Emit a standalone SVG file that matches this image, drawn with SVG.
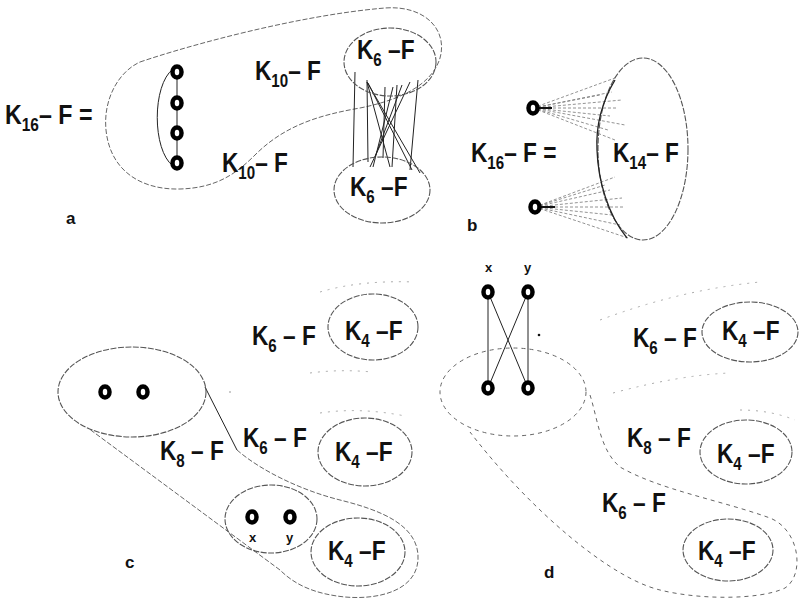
<svg xmlns="http://www.w3.org/2000/svg" width="799" height="603" viewBox="0 0 799 603">
<style>
.t{font-family:"Liberation Sans",Arial,sans-serif;font-weight:bold;font-size:27px;fill:#111}
.s{font-size:18px}
.sm{font-family:"Liberation Sans",Arial,sans-serif;font-weight:bold;font-size:17px;fill:#111}
.xs{font-family:"Liberation Sans",Arial,sans-serif;font-weight:bold;font-size:13px;fill:#111}
.v{fill:#fff;stroke:#000;stroke-width:4.5}
.e{fill:none;stroke:#555;stroke-width:1.1;stroke-dasharray:6 1.5}
.c{fill:none;stroke:#666;stroke-width:1;stroke-dasharray:5 2}
.cd{fill:none;stroke:#666;stroke-width:1;stroke-dasharray:4 4}
.ln{stroke:#222;stroke-width:1;fill:none}
.fan{stroke:#777;stroke-width:0.8;stroke-dasharray:3 2}
.faint{fill:none;stroke:#aaa;stroke-width:1;stroke-dasharray:2 6}
</style>
<rect width="799" height="603" fill="#fff"/>

<!-- connectors -->
<g id="connectors">
  <!-- panel a -->
  <path class="c" d="M140,62 C190,45 300,15 385,8 C425,5 448,30 440,58 C432,85 400,100 360,108 C320,115 285,125 255,155 C235,175 215,188 180,189 C140,190 110,170 106,130 C103,100 118,72 140,62 Z"/>
  <line class="ln" x1="177" y1="72" x2="177" y2="163"/>
  <path class="ln" d="M173,69 C152,85 152,150 173,166"/>
  <g class="ln">
    <line x1="355" y1="72" x2="353" y2="167"/>
    <line x1="367" y1="80" x2="368" y2="162"/>
    <line x1="368" y1="83" x2="412" y2="170"/>
    <line x1="367" y1="82" x2="390" y2="167"/>
    <line x1="385" y1="87" x2="383" y2="158"/>
    <line x1="393" y1="87" x2="373" y2="167"/>
    <line x1="402" y1="85" x2="375" y2="157"/>
    <line x1="410" y1="82" x2="370" y2="167"/>
    <line x1="418" y1="80" x2="410" y2="170"/>
    <line x1="397" y1="85" x2="392" y2="167"/>
    <line x1="367" y1="82" x2="420" y2="173"/>
  </g>
  <!-- panel b -->
  <g class="fan">
    <line x1="533" y1="108" x2="615" y2="78"/>
    <line x1="533" y1="108" x2="600" y2="95"/>
    <line x1="533" y1="108" x2="612" y2="92"/>
    <line x1="533" y1="108" x2="622" y2="100"/>
    <line x1="533" y1="108" x2="618" y2="108"/>
    <line x1="533" y1="108" x2="610" y2="116"/>
    <line x1="533" y1="108" x2="625" y2="125"/>
    <line x1="533" y1="108" x2="608" y2="130"/>
    <line x1="533" y1="108" x2="615" y2="140"/>
    <line x1="535" y1="207" x2="615" y2="177"/>
    <line x1="535" y1="207" x2="605" y2="185"/>
    <line x1="535" y1="207" x2="610" y2="190"/>
    <line x1="535" y1="207" x2="622" y2="198"/>
    <line x1="535" y1="207" x2="625" y2="207"/>
    <line x1="535" y1="207" x2="612" y2="215"/>
    <line x1="535" y1="207" x2="620" y2="225"/>
    <line x1="535" y1="207" x2="628" y2="238"/>
  </g>
  <line x1="533" y1="108" x2="552" y2="108" stroke="#111" stroke-width="2"/>
  <line x1="535" y1="207" x2="555" y2="207" stroke="#111" stroke-width="2"/>
  <!-- panel c -->
  <path class="ln" d="M205,387 L237,450" stroke-width="1.2"/>
  <path class="c" d="M237,450 C260,470 300,490 340,500 C380,510 420,525 418,560 C416,590 380,600 345,597 C315,594 295,585 280,570 L88,428"/>
  <path class="faint" d="M320,292 Q360,280 415,282"/>
  <path class="faint" d="M310,373 Q340,369 372,372"/>
  <path class="faint" d="M320,413 Q360,407 405,416"/>
  <circle cx="230" cy="392" r="0.8" fill="#888"/>
  <!-- panel d -->
  <g class="ln">
    <line x1="488" y1="292" x2="488" y2="388"/>
    <line x1="528" y1="292" x2="528" y2="388"/>
    <line x1="488" y1="292" x2="528" y2="388"/>
    <line x1="528" y1="292" x2="488" y2="388"/>
  </g>
  <circle cx="539" cy="335" r="1.3" fill="#111"/>
  <path class="cd" d="M590,395 C598,420 600,450 620,467 C660,490 720,500 770,518 C800,530 805,575 785,588 C760,600 700,600 660,590 C610,578 530,510 470,432"/>
  <path class="faint" d="M600,320 Q680,290 760,282"/>
  <path class="faint" d="M613,393 Q680,375 730,373"/>
  <path class="faint" d="M740,410 Q770,410 795,420"/>
</g>

<!-- panel a nodes -->
<g id="a-label"><text class="t" transform="translate(5,124) scale(0.86,1)">K<tspan class="s" dy="7">16</tspan><tspan dy="-7">– F =</tspan></text></g>
<g id="a-v1"><ellipse class="v" cx="177" cy="72" rx="4.5" ry="5.5"/></g>
<g id="a-v2"><ellipse class="v" cx="177" cy="103" rx="4.5" ry="5.5"/></g>
<g id="a-v3"><ellipse class="v" cx="177" cy="133" rx="4.5" ry="5.5"/></g>
<g id="a-v4"><ellipse class="v" cx="177" cy="163" rx="4.5" ry="5.5"/></g>
<g id="a-k10top"><text class="t" transform="translate(255,80) scale(0.84,1)">K<tspan class="s" dy="7">10</tspan><tspan dy="-7">– F</tspan></text></g>
<g id="a-k10bot"><text class="t" transform="translate(222,172) scale(0.84,1)">K<tspan class="s" dy="7">10</tspan><tspan dy="-7">– F</tspan></text></g>
<g id="a-k6top"><ellipse class="e" cx="390" cy="62" rx="46" ry="34"/><text class="t" transform="translate(357,59) scale(0.84,1)">K<tspan class="s" dy="7">6</tspan><tspan dy="-7"> –F</tspan></text></g>
<g id="a-k6bot"><ellipse class="e" cx="382" cy="190" rx="48" ry="33"/><text class="t" transform="translate(350,196) scale(0.84,1)">K<tspan class="s" dy="7">6</tspan><tspan dy="-7"> –F</tspan></text></g>
<g id="a-tag"><text class="sm" x="66" y="224">a</text></g>

<!-- panel b nodes -->
<g id="b-label"><text class="t" transform="translate(471,162) scale(0.84,1)">K<tspan class="s" dy="7">16</tspan><tspan dy="-7">– F =</tspan></text></g>
<g id="b-v1"><ellipse class="v" cx="533" cy="108" rx="4.5" ry="5.5"/></g>
<g id="b-v2"><ellipse class="v" cx="535" cy="207" rx="4.5" ry="5.5"/></g>
<g id="b-k14">
  <ellipse class="e" cx="643" cy="149" rx="45" ry="91" stroke="#888"/>
  <path d="M615,80 C600,105 596,130 597,150 C598,180 608,215 627,238" fill="none" stroke="#222" stroke-width="1.3"/>
  <text class="t" transform="translate(613,162) scale(0.84,1)">K<tspan class="s" dy="7">14</tspan><tspan dy="-7">– F</tspan></text>
</g>
<g id="b-tag"><text class="sm" x="467" y="231">b</text></g>

<!-- panel c nodes -->
<g id="c-left"><ellipse class="e" cx="132" cy="392" rx="74" ry="45"/></g>
<g id="c-v1"><ellipse class="v" cx="105" cy="392" rx="4.5" ry="5.5"/></g>
<g id="c-v2"><ellipse class="v" cx="143" cy="392" rx="4.5" ry="5.5"/></g>
<g id="c-k6a"><text class="t" transform="translate(252,345) scale(0.84,1)">K<tspan class="s" dy="7">6</tspan><tspan dy="-7"> – F</tspan></text></g>
<g id="c-k4a"><ellipse class="e" cx="373" cy="327" rx="45" ry="33"/><text class="t" transform="translate(345,340) scale(0.84,1)">K<tspan class="s" dy="7">4</tspan><tspan dy="-7"> –F</tspan></text></g>
<g id="c-k6b"><text class="t" transform="translate(243,447) scale(0.84,1)">K<tspan class="s" dy="7">6</tspan><tspan dy="-7"> – F</tspan></text></g>
<g id="c-k4b"><ellipse class="e" cx="365" cy="452" rx="47" ry="34"/><text class="t" transform="translate(335,461) scale(0.84,1)">K<tspan class="s" dy="7">4</tspan><tspan dy="-7"> –F</tspan></text></g>
<g id="c-k8"><text class="t" transform="translate(160,460) scale(0.84,1)">K<tspan class="s" dy="7">8</tspan><tspan dy="-7"> – F</tspan></text></g>
<g id="c-xy"><ellipse class="e" cx="271" cy="519" rx="46" ry="34"/></g>
<g id="c-vx"><ellipse class="v" cx="252" cy="517" rx="4.5" ry="5.5"/><text class="xs" x="249" y="542">x</text></g>
<g id="c-vy"><ellipse class="v" cx="290" cy="517" rx="4.5" ry="5.5"/><text class="xs" x="286" y="542">y</text></g>
<g id="c-k4c"><ellipse class="e" cx="358" cy="552" rx="47" ry="34"/><text class="t" transform="translate(328,560) scale(0.84,1)">K<tspan class="s" dy="7">4</tspan><tspan dy="-7"> –F</tspan></text></g>
<g id="c-tag"><text class="sm" x="125" y="568">c</text></g>

<!-- panel d nodes -->
<g id="d-ell"><ellipse class="cd" cx="513" cy="392" rx="73" ry="44"/></g>
<g id="d-vx"><text class="xs" x="485" y="272">x</text><ellipse class="v" cx="488" cy="292" rx="4.5" ry="5.5"/></g>
<g id="d-vy"><text class="xs" x="524" y="272">y</text><ellipse class="v" cx="528" cy="292" rx="4.5" ry="5.5"/></g>
<g id="d-v3"><ellipse class="v" cx="488" cy="388" rx="4.5" ry="5.5"/></g>
<g id="d-v4"><ellipse class="v" cx="528" cy="388" rx="4.5" ry="5.5"/></g>
<g id="d-k6a"><text class="t" transform="translate(633,347) scale(0.84,1)">K<tspan class="s" dy="7">6</tspan><tspan dy="-7"> – F</tspan></text></g>
<g id="d-k4a"><ellipse class="e" cx="750" cy="332" rx="48" ry="30"/><text class="t" transform="translate(722,340) scale(0.84,1)">K<tspan class="s" dy="7">4</tspan><tspan dy="-7"> –F</tspan></text></g>
<g id="d-k8"><text class="t" transform="translate(627,447) scale(0.84,1)">K<tspan class="s" dy="7">8</tspan><tspan dy="-7"> – F</tspan></text></g>
<g id="d-k4b"><ellipse class="e" cx="746" cy="452" rx="46" ry="32"/><text class="t" transform="translate(717,463) scale(0.84,1)">K<tspan class="s" dy="7">4</tspan><tspan dy="-7"> –F</tspan></text></g>
<g id="d-k6b"><text class="t" transform="translate(602,512) scale(0.84,1)">K<tspan class="s" dy="7">6</tspan><tspan dy="-7"> – F</tspan></text></g>
<g id="d-k4c"><ellipse class="e" cx="728" cy="550" rx="45" ry="31"/><text class="t" transform="translate(698,560) scale(0.84,1)">K<tspan class="s" dy="7">4</tspan><tspan dy="-7"> –F</tspan></text></g>
<g id="d-tag"><text class="sm" x="544" y="578">d</text></g>
</svg>
